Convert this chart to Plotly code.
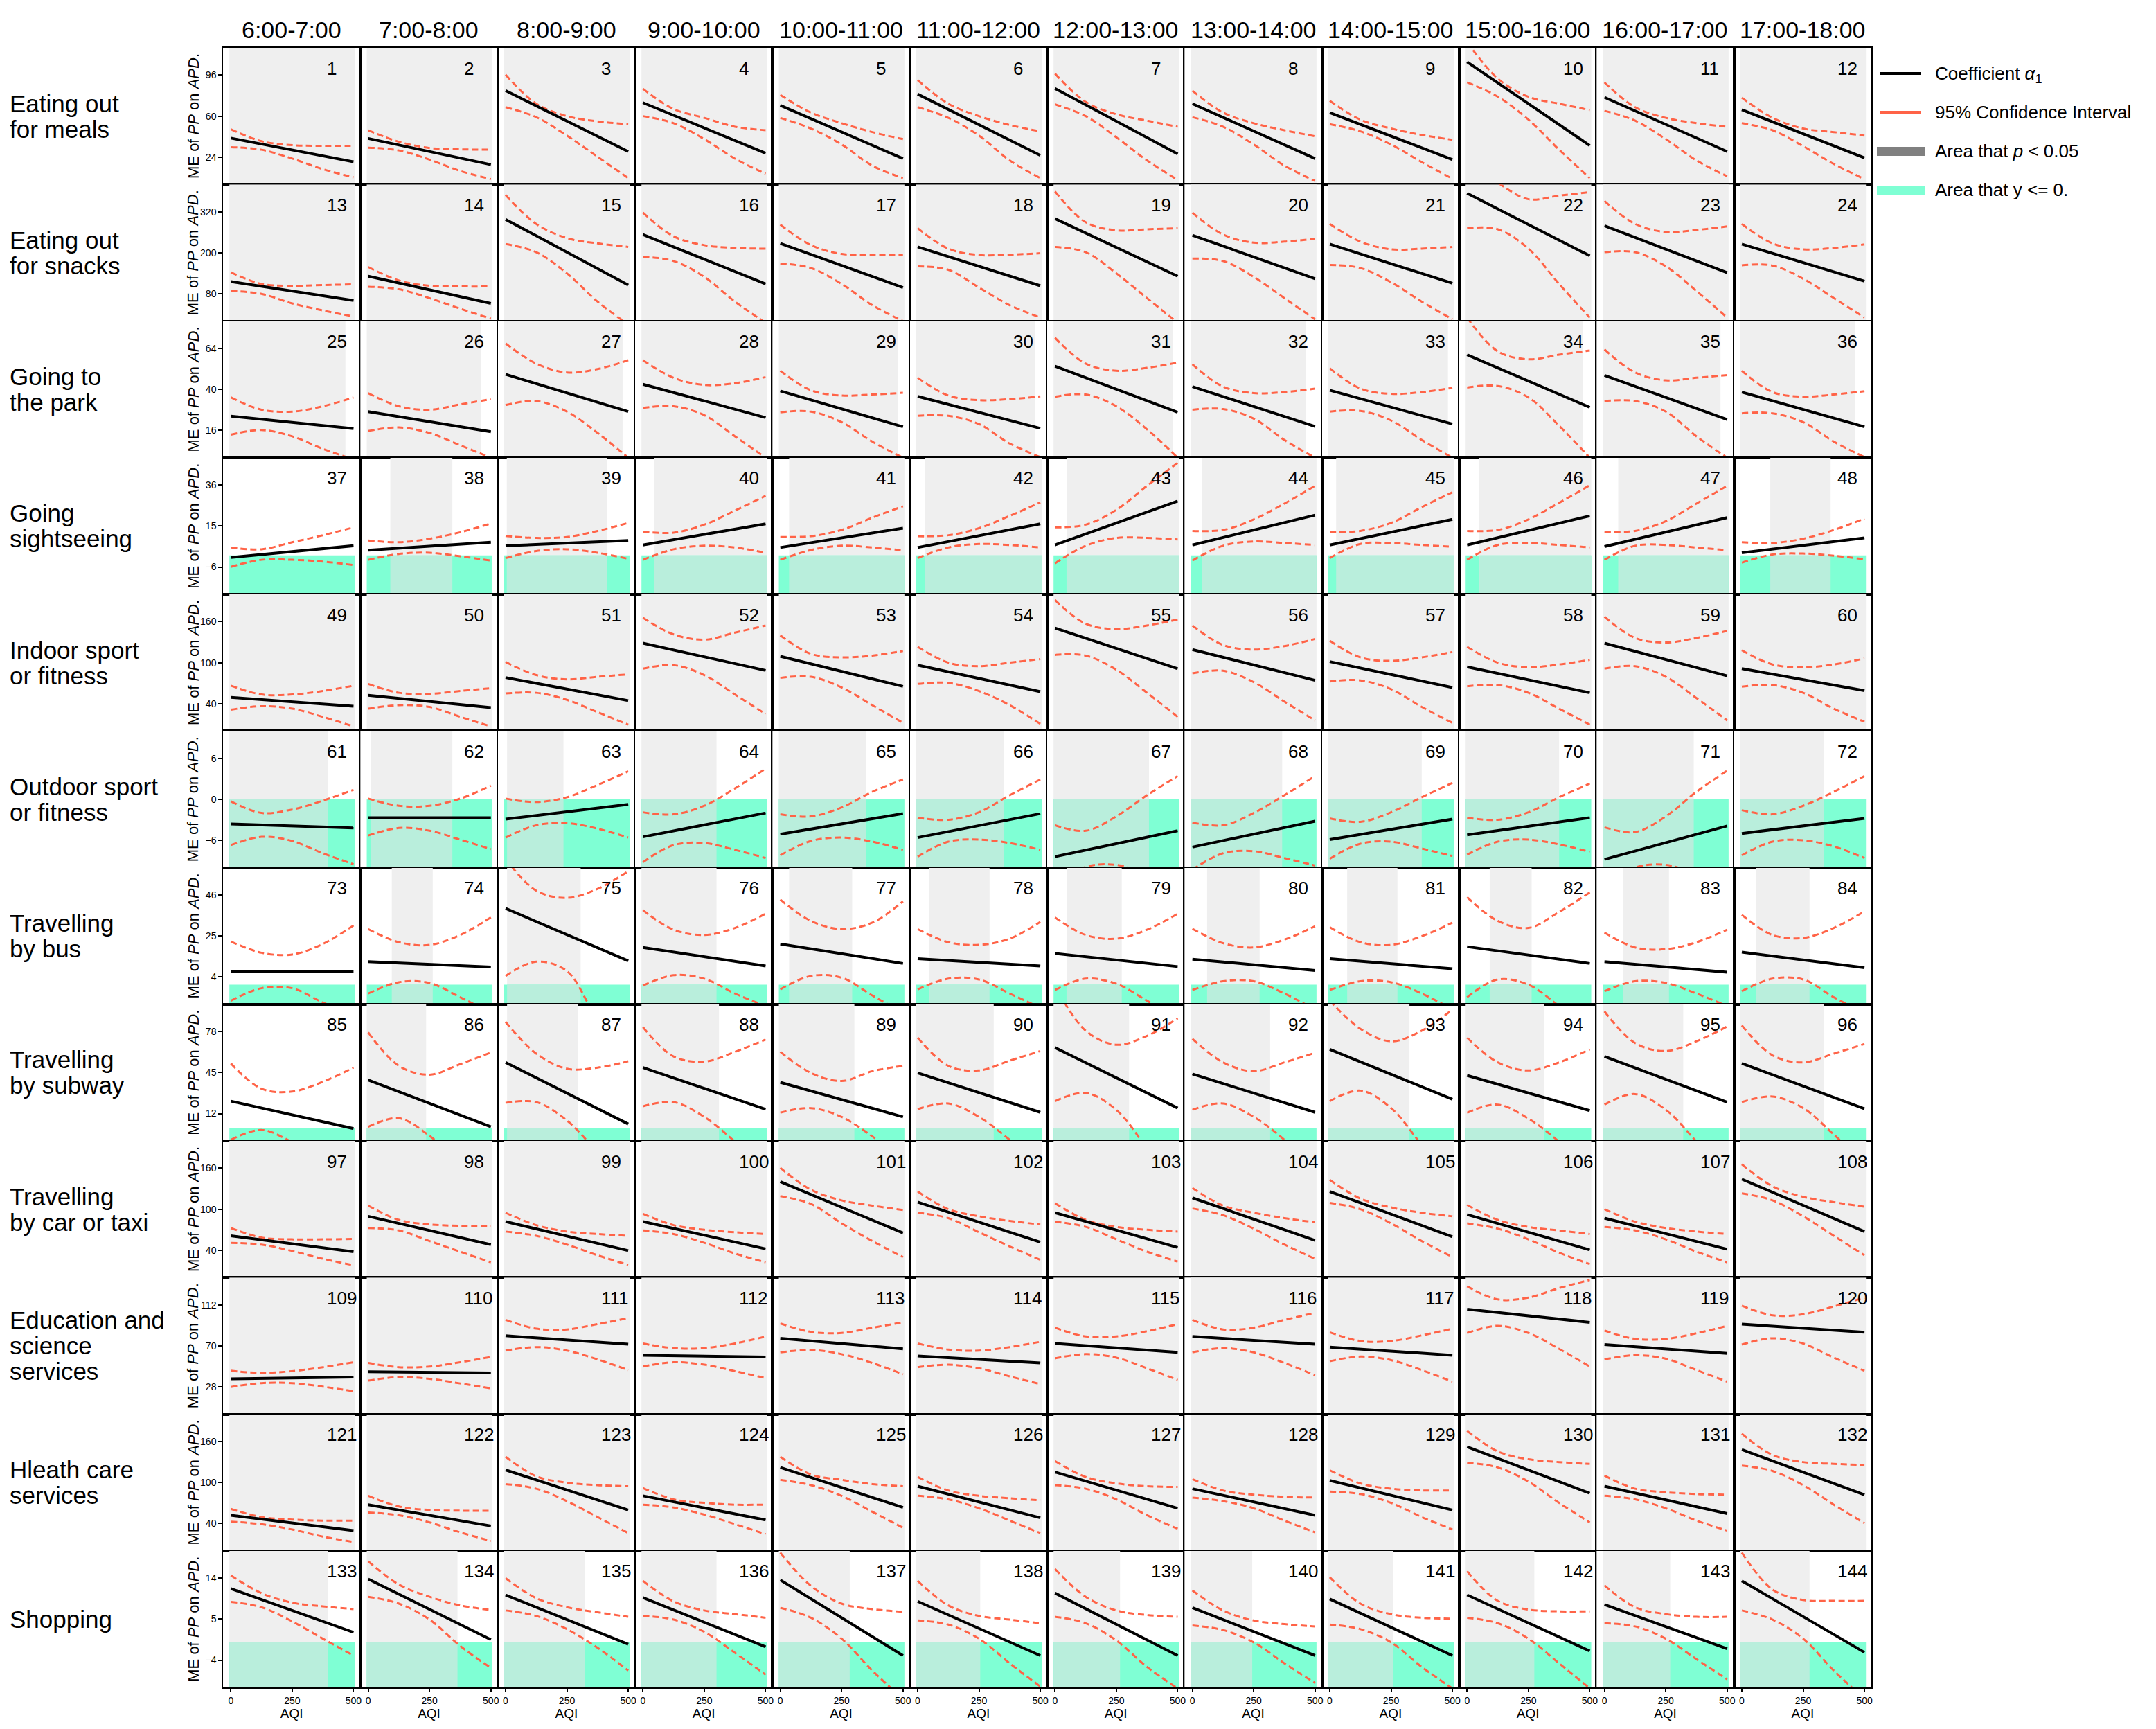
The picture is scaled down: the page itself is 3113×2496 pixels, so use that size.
import plotly.graph_objects as go
from plotly.subplots import make_subplots

hours = ["6:00-7:00", "7:00-8:00", "8:00-9:00", "9:00-10:00", "10:00-11:00", "11:00-12:00",
         "12:00-13:00", "13:00-14:00", "14:00-15:00", "15:00-16:00", "16:00-17:00", "17:00-18:00"]

activities = [["Eating out", "for meals"], ["Eating out", "for snacks"], ["Going to", "the park"],
              ["Going", "sightseeing"], ["Indoor sport", "or fitness"], ["Outdoor sport", "or fitness"],
              ["Travelling", "by bus"], ["Travelling", "by subway"], ["Travelling", "by car or taxi"],
              ["Education and", "science", "services"], ["Hleath care", "services"], ["Shopping"]]

y_ranges = [[0, 120], [0, 400], [0, 80], [-20, 50], [0, 200], [-10, 10],
            [-10, 60], [-10, 100], [0, 200], [0, 140], [0, 200], [-10, 20]]
y_ticks = [[24, 60, 96], [80, 200, 320], [16, 40, 64], [-6, 15, 36], [40, 100, 160], [-6, 0, 6],
           [4, 25, 46], [12, 45, 78], [40, 100, 160], [28, 70, 112], [40, 100, 160], [-4, 5, 14]]

aqi = [0, 125, 250, 375, 500]

# coefficient alpha_1 at AQI = 0 and AQI = 500
coef_0 = [
    [40.7, 40.4, 82.4, 71.8, 69.4, 79.3, 84.3, 70.9, 63.1, 107.6, 76.5, 65.6],
    [115.8, 131.3, 297.8, 253.3, 227.5, 217.1, 299.9, 251.3, 225.4, 374.3, 279.2, 225.4],
    [24.3, 27.0, 48.8, 43.0, 39.1, 35.9, 53.6, 41.6, 39.5, 60.3, 48.2, 38.4],
    [-1.1, 2.6, 4.9, 5.3, 4.0, 4.0, 5.3, 5.3, 5.3, 5.3, 4.5, 1.3],
    [49.2, 52.3, 78.2, 128.5, 109.3, 96.3, 150.7, 119.1, 101.5, 93.8, 128.5, 91.2],
    [-3.6, -2.7, -2.9, -5.5, -5.1, -5.6, -8.4, -7.0, -5.9, -5.2, -8.8, -5.0],
    [6.9, 11.8, 39.1, 19.1, 20.9, 13.3, 16.0, 13.1, 13.3, 19.5, 11.8, 16.7],
    [22.0, 39.0, 53.2, 49.0, 37.1, 44.7, 65.1, 43.9, 63.7, 42.7, 58.0, 52.4],
    [61.1, 89.6, 81.8, 81.8, 140.4, 110.3, 94.8, 116.6, 125.9, 92.2, 87.0, 144.0],
    [36.2, 43.4, 80.3, 60.4, 77.8, 59.7, 72.4, 79.6, 68.7, 107.5, 71.3, 92.3],
    [52.0, 67.5, 118.4, 80.5, 122.1, 94.5, 115.3, 90.9, 102.9, 152.2, 94.5, 148.1],
    [11.7, 13.8, 10.3, 9.7, 13.6, 8.9, 10.7, 7.5, 9.4, 10.3, 8.2, 13.4],
]
coef_500 = [
    [19.9, 17.4, 28.9, 27.4, 22.7, 25.5, 26.7, 22.7, 21.8, 34.2, 28.9, 23.3],
    [60.0, 51.7, 105.5, 108.6, 98.2, 103.4, 131.3, 124.1, 110.6, 191.3, 141.7, 116.8],
    [17.0, 15.2, 27.0, 23.5, 18.1, 17.2, 26.6, 18.3, 19.7, 29.5, 22.4, 18.1],
    [4.9, 6.7, 7.6, 16.1, 13.9, 16.1, 27.8, 20.6, 18.4, 20.2, 19.3, 8.9],
    [36.3, 34.2, 44.5, 88.6, 65.3, 57.5, 91.2, 74.1, 63.7, 55.9, 80.8, 59.1],
    [-4.2, -2.7, -0.75, -2.0, -2.1, -2.1, -4.6, -3.2, -2.9, -2.7, -3.9, -2.8],
    [6.9, 9.1, 12.2, 9.6, 10.9, 9.6, 9.3, 7.3, 8.2, 10.9, 6.4, 8.7],
    [-0.1, 1.3, 3.6, 15.5, 9.3, 13.0, 16.4, 13.0, 23.5, 14.4, 21.2, 15.8],
    [37.8, 48.2, 39.4, 42.0, 65.3, 51.8, 44.0, 54.4, 59.6, 40.4, 41.4, 67.3],
    [38.0, 42.3, 71.6, 58.6, 66.9, 52.5, 63.3, 71.6, 60.4, 94.1, 62.2, 83.9],
    [29.6, 36.4, 59.7, 45.2, 63.4, 48.3, 62.3, 52.0, 59.7, 84.2, 54.5, 82.1],
    [2.1, 0.5, -0.5, -1.1, -3.0, -3.0, -3.0, -3.0, -3.0, -2.0, -1.5, -2.3],
]

# 95% CI upper / lower bounds at AQI = 0, 125, 250, 375, 500
ci_up = [
    [[48.5, 38.0, 34.5, 33.9, 33.9], [47.6, 37.5, 32.0, 30.8, 30.5], [96.4, 70.9, 60.0, 55.4, 52.9],
     [84.0, 66.2, 58.5, 50.7, 47.6], [78.7, 63.1, 53.8, 46.0, 39.8], [91.7, 70.9, 60.0, 52.2, 46.6],
     [97.3, 72.5, 61.6, 56.0, 50.7], [82.4, 63.1, 53.8, 47.6, 42.3], [73.4, 56.9, 49.1, 43.5, 39.2],
     [125, 93, 77, 70.9, 65.3], [89.6, 67.8, 58.5, 53.8, 50.7], [76.2, 58.5, 49.1, 46.0, 42.9]],
    [[142.7, 108.6, 103.4, 105.5, 107.5], [158.2, 118.9, 103.4, 101.3, 101.3], [369.1, 284.4, 243.0, 227.5, 217.1],
     [317.4, 248.2, 222.3, 214.0, 212.0], [282.3, 222.3, 196.5, 193.4, 193.4], [272.0, 212.0, 193.4, 194.4, 198.5],
     [379.5, 289.5, 265.7, 268.8, 271.9], [317.4, 253.3, 229.5, 232.6, 240.9], [284.4, 232.6, 209.9, 212.0, 217.1],
     [470, 405, 356.7, 367.1, 377.4], [351.6, 284.4, 260.6, 266.8, 277.1], [284.4, 227.5, 209.9, 214.0, 224.4]],
    [[35.3, 28.1, 27.0, 30.1, 35.3], [37.8, 30.1, 28.1, 31.2, 34.3], [66.9, 55.1, 49.9, 51.9, 57.1],
     [57.1, 46.8, 42.6, 43.6, 47.2], [50.9, 39.5, 36.4, 37.0, 38.0], [46.8, 36.4, 33.7, 34.3, 35.9],
     [70.2, 55.1, 50.9, 52.6, 55.7], [54.7, 41.6, 37.8, 38.4, 40.5], [52.4, 40.5, 37.4, 38.4, 40.9],
     [82, 62.3, 57.6, 60.3, 62.8], [63.4, 49.9, 45.3, 46.8, 48.4], [50.9, 38.4, 35.7, 37.0, 38.9]],
    [[4.0, 3.1, 6.7, 10.3, 14.3], [7.6, 6.7, 8.5, 11.8, 16.3], [9.9, 8.9, 9.4, 12.5, 16.6],
     [12.1, 11.6, 15.7, 22.9, 30.5], [9.4, 9.8, 13.0, 19.3, 25.1], [9.8, 10.3, 13.9, 20.2, 27.1],
     [14.3, 15.7, 23.3, 35.6, 47.3], [12.5, 13.0, 18.4, 26.5, 35.6], [11.8, 12.5, 16.6, 24.7, 32.3],
     [12.5, 13.0, 18.4, 26.9, 35.9], [12.1, 12.5, 17.5, 26.5, 35.6], [6.7, 6.3, 8.5, 13.0, 18.8]],
    [[66.3, 53.4, 53.4, 58.5, 66.3], [68.9, 55.9, 54.4, 58.5, 62.7], [101.0, 81.8, 75.6, 79.3, 82.9],
     [165.8, 141.4, 133.6, 144.0, 154.4], [139.9, 112.9, 107.7, 110.3, 117.1], [123.3, 100.0, 94.8, 100.0, 105.2],
     [191.7, 157.0, 149.2, 154.4, 163.2], [154.4, 125.9, 119.1, 124.3, 134.7], [132.1, 107.7, 102.6, 107.7, 115.5],
     [123.3, 100.0, 93.2, 97.4, 104.1], [167.3, 136.2, 129.5, 136.2, 146.6], [118.1, 97.4, 93.2, 97.4, 106.2]],
    [[-0.3, -2.0, -1.5, -0.2, 1.4], [0.1, -0.95, -0.95, 0.1, 2.0], [0.1, -0.4, 0.3, 2.1, 4.1],
     [-1.9, -2.2, -0.95, 1.6, 4.5], [-2.2, -2.5, -1.2, 1.1, 2.9], [-2.7, -3.0, -1.9, 0.6, 2.9],
     [-3.8, -4.6, -2.5, 0.6, 3.4], [-3.4, -3.8, -2.0, 0.6, 3.4], [-2.8, -3.3, -1.9, 0.3, 2.4],
     [-2.7, -3.0, -1.9, 0.3, 2.3], [-4.1, -4.8, -2.5, 1.1, 4.2], [-1.6, -2.2, -0.95, 1.1, 3.4]],
    [[22.2, 16.4, 15.5, 20.9, 30.4], [28.5, 21.8, 20.4, 25.5, 34.5], [64.5, 48.2, 44.5, 49.1, 58.2],
     [38.2, 28.2, 25.5, 29.1, 36.4], [43.6, 32.7, 28.5, 31.8, 42.7], [28.5, 21.8, 20.4, 23.6, 32.2],
     [34.5, 25.5, 23.6, 28.2, 36.4], [28.7, 21.3, 19.1, 23.1, 30.0], [29.5, 21.8, 20.4, 24.9, 31.8],
     [44.9, 32.7, 29.1, 37.3, 47.3], [26.7, 19.1, 18.2, 21.8, 28.2], [35.8, 25.5, 24.0, 29.1, 37.6]],
    [[52.4, 32.0, 29.7, 37.6, 49.0], [77.3, 50.4, 43.3, 51.8, 61.2], [85.8, 60.3, 48.1, 49.0, 54.1],
     [81.6, 58.0, 53.8, 61.7, 71.6], [61.7, 44.7, 38.2, 46.1, 50.4], [73.1, 50.4, 46.7, 54.6, 62.3],
     [115, 78.7, 67.4, 74.5, 88.7], [72.2, 53.2, 46.1, 53.2, 60.9], [103, 80.2, 70.2, 78.7, 95.7],
     [73.1, 53.2, 46.7, 53.2, 63.7], [94.3, 68.8, 62.3, 70.2, 82.1], [83.0, 58.9, 53.2, 60.3, 68.0]],
    [[72.5, 58.5, 55.9, 55.9, 56.5], [105.2, 84.4, 77.7, 75.6, 75.1], [94.8, 76.7, 67.3, 63.7, 61.1],
     [93.2, 76.7, 69.9, 66.3, 63.7], [160.6, 128.5, 112.9, 105.2, 98.9], [125.9, 100.0, 89.6, 82.9, 77.7],
     [108.8, 84.4, 74.1, 69.9, 67.3], [131.1, 105.2, 94.8, 87.0, 80.8], [143.0, 115.5, 102.6, 94.8, 89.6],
     [106.2, 84.4, 74.1, 68.9, 63.7], [100.0, 81.8, 72.5, 67.3, 63.7], [165.8, 133.6, 118.1, 110.3, 103.6]],
    [[44.5, 42.3, 44.1, 48.1, 53.2], [52.5, 48.1, 48.8, 53.2, 58.6], [96.6, 87.6, 86.8, 92.3, 98.4],
     [72.4, 67.7, 67.7, 72.4, 79.6], [93.0, 84.3, 83.2, 88.6, 94.1], [72.4, 66.2, 65.1, 68.7, 74.2],
     [88.6, 79.6, 79.6, 85.0, 92.3], [96.6, 86.8, 88.6, 96.6, 103.8], [83.9, 74.9, 74.9, 80.7, 87.6],
     [131.0, 117.6, 119.4, 129.2, 137.5], [85.7, 77.1, 77.1, 82.9, 90.5], [111.1, 101.3, 102.4, 110.4, 119.4]],
    [[61.3, 49.4, 45.7, 44.2, 44.2], [80.5, 64.9, 59.7, 58.7, 58.7], [137.7, 109.1, 99.7, 96.1, 94.5],
     [92.0, 75.3, 70.1, 67.5, 67.5], [137.7, 111.7, 103.9, 97.7, 94.5], [108.1, 88.3, 80.5, 76.9, 73.8],
     [131.4, 108.1, 98.7, 94.5, 93.5], [104.9, 88.3, 82.1, 79.0, 77.9], [117.9, 98.7, 90.9, 88.3, 88.3],
     [175.6, 145.5, 134.0, 129.9, 127.3], [110.1, 90.9, 85.7, 83.1, 82.1], [171.4, 140.3, 129.9, 127.3, 125.7]],
    [[14.6, 10.7, 8.6, 7.8, 7.2], [17.7, 12.6, 9.9, 8.0, 7.0], [14.0, 9.6, 7.6, 6.5, 5.5],
     [13.4, 8.9, 6.9, 6.1, 5.3], [19.6, 12.3, 8.4, 7.2, 6.6], [13.4, 8.0, 5.7, 4.9, 4.1],
     [16.0, 9.9, 6.9, 5.9, 5.5], [11.3, 6.9, 4.7, 3.9, 3.4], [14.2, 8.4, 6.1, 5.3, 5.1],
     [15.5, 9.0, 7.1, 6.7, 6.7], [12.4, 7.6, 6.1, 5.5, 5.5], [19.6, 11.5, 9.2, 9.0, 9.0]],
]
ci_low = [
    [[32.7, 30.5, 22.7, 13.4, 6.2], [32.3, 29.9, 21.8, 11.8, 4.7], [67.8, 59.1, 42.9, 24.3, 5.6],
     [60.0, 53.8, 39.8, 22.7, 9.3], [58.5, 49.1, 35.1, 16.5, 5.6], [67.8, 58.5, 42.9, 21.1, 5.6],
     [70.3, 60.0, 41.4, 21.1, 4.0], [59.1, 50.7, 35.1, 16.5, 3.1], [52.9, 46.6, 35.1, 19.6, 5.0],
     [89.6, 77.1, 56.9, 30.5, 5.6], [64.7, 56.0, 39.8, 21.1, 7.2], [53.8, 47.6, 33.6, 18.0, 4.7]],
    [[87.9, 79.6, 51.7, 31.0, 13.4], [100.3, 93.1, 67.2, 36.2, 7.2], [225.4, 201.6, 139.6, 56.9, -10],
     [188.2, 175.8, 129.3, 56.9, -5], [168.5, 155.1, 108.6, 46.5, 0], [160.3, 150.0, 98.2, 46.5, 10.3],
     [217.1, 201.6, 139.6, 67.2, -5], [183.0, 175.8, 129.3, 67.2, 5.2], [164.4, 155.1, 113.7, 56.9, 5.2],
     [271.9, 268.8, 212.0, 108.6, 10.3], [201.6, 201.6, 160.3, 87.9, 10.3], [163.4, 162.4, 124.1, 67.2, 10.3]],
    [[13.5, 16.2, 12.5, 5.2, -1], [15.6, 17.7, 14.5, 7.3, 0], [30.8, 33.2, 27.0, 14.5, 0],
     [29.1, 30.1, 24.9, 12.5, 0], [26.6, 27.0, 20.8, 9.4, 0], [24.5, 24.5, 19.7, 8.3, 0.4],
     [35.7, 37.0, 30.1, 16.6, 0], [28.1, 28.5, 22.9, 10.4, 0], [27.0, 27.4, 21.8, 10.4, 0],
     [41.1, 42.0, 35.3, 18.7, 0], [33.2, 33.2, 27.0, 12.5, 0], [26.0, 26.0, 20.8, 9.4, 0.4]],
    [[-5.9, -2.3, -2.3, -3.2, -5.0], [-2.3, 0.7, 1.3, -0.5, -2.7], [-1.4, 2.2, 3.1, 1.3, -1.8],
     [-2.3, 3.1, 4.9, 4.0, 1.3], [-2.3, 2.7, 4.9, 4.0, 2.6], [-1.4, 4.0, 5.8, 5.3, 4.0],
     [-4.1, 4.9, 8.9, 8.9, 8.1], [-2.7, 4.9, 7.1, 6.3, 5.3], [-1.4, 5.8, 6.3, 5.3, 4.4],
     [-2.3, 5.3, 6.3, 5.3, 4.0], [-2.3, 4.9, 5.3, 4.0, 2.6], [-3.8, 0.4, 0.9, -0.2, -2.0]],
    [[31.1, 36.3, 32.6, 20.7, 6.7], [32.6, 37.8, 35.2, 20.7, 6.7], [54.9, 55.9, 45.6, 27.5, 9.3],
     [91.2, 96.3, 81.8, 53.4, 24.9], [77.7, 79.3, 63.7, 37.8, 11.9], [68.9, 70.4, 58.5, 37.8, 10.4],
     [111.4, 110.3, 89.6, 55.9, 20.7], [84.4, 88.1, 71.5, 43.0, 15.5], [72.5, 74.1, 61.1, 35.2, 11.9],
     [65.3, 67.3, 55.9, 32.6, 9.3], [91.2, 94.8, 79.3, 48.2, 15.5], [64.8, 67.3, 55.9, 32.6, 13.5]],
    [[-6.7, -5.5, -6.1, -7.9, -9.5], [-5.3, -4.2, -4.6, -5.9, -7.3], [-5.6, -3.8, -3.5, -4.3, -5.6],
     [-9.2, -6.7, -6.4, -7.4, -8.6], [-8.2, -6.1, -5.6, -6.2, -7.4], [-8.4, -6.2, -5.9, -6.4, -7.4],
     [-12.5, -9.9, -9.6, -11.0, -13.0], [-10.3, -7.9, -7.6, -8.6, -9.7], [-8.7, -6.5, -6.2, -7.2, -8.3],
     [-8.1, -6.2, -5.9, -6.6, -7.7], [-13.0, -10.0, -9.6, -11.0, -13.0], [-8.2, -6.2, -6.0, -6.9, -8.6]],
    [[-8.2, -1.8, -1.8, -9.1, -15.5], [-4.5, 1.3, 0.9, -6.4, -14.5], [4.5, 11.8, 7.0, -17, -30],
     [-0.5, 4.9, 3.1, -4.5, -10.9], [-2.4, 4.5, 3.6, -5.5, -14.5], [-2.4, 3.1, 2.7, -4.5, -11.8],
     [-2.7, 3.1, 0.5, -8.2, -17.3], [-2.7, 1.8, 1.8, -4.5, -12.7], [-2.7, 1.8, 1.3, -4.5, -12.7],
     [-6.4, 2.7, 0.0, -10.9, -22.7], [-3.3, 1.8, 0.9, -4.5, -10.9], [-3.3, 3.1, 2.7, -6.4, -14.5]],
    [[-9.1, -1.2, -11, -25, -40], [1.3, 8.2, -6, -28, -50], [20.6, 21.2, 6.4, -19.1, -44.6],
     [17.8, 21.2, 9.3, -10.6, -33.2], [12.7, 16.4, 9.3, -6.3, -24.7], [15.5, 20.1, 9.3, -9.1, -30.4],
     [22.0, 28.6, 14.9, -16.2, -50.3], [15.0, 20.1, 9.3, -9.1, -33.2], [22.0, 30.5, 16.4, -13.4, -44.6],
     [12.7, 19.2, 7.9, -10.6, -33.2], [19.2, 27.7, 15.0, -10.6, -38.9], [21.2, 25.7, 16.4, -4.9, -27.6]],
    [[50.8, 48.2, 38.9, 27.5, 18.1], [72.5, 68.9, 53.4, 37.8, 22.3], [67.3, 61.1, 48.2, 32.6, 18.6],
     [68.9, 63.7, 50.8, 35.2, 22.3], [119.1, 107.7, 79.3, 53.4, 30.0], [94.8, 87.0, 66.3, 45.6, 25.9],
     [81.8, 74.1, 55.9, 37.8, 23.3], [101.0, 91.2, 71.5, 48.2, 27.5], [109.3, 100.0, 79.3, 53.4, 30.0],
     [79.3, 71.5, 55.9, 36.3, 19.7], [74.1, 68.9, 55.9, 37.8, 22.3], [123.3, 112.9, 89.6, 61.1, 32.6]],
    [[27.9, 31.8, 31.8, 28.2, 23.5], [34.4, 38.0, 36.2, 31.5, 26.4], [65.1, 68.7, 65.1, 56.1, 45.2],
     [48.8, 53.2, 50.7, 44.1, 36.9], [63.3, 65.8, 61.5, 52.5, 40.9], [48.1, 50.7, 47.0, 38.7, 30.8],
     [57.2, 61.5, 57.9, 47.0, 35.1], [63.3, 67.7, 63.3, 52.5, 39.8], [54.3, 59.0, 55.4, 45.2, 33.3],
     [83.2, 90.5, 83.2, 66.9, 48.8], [56.1, 60.4, 56.8, 45.2, 33.3], [71.3, 77.8, 72.4, 57.9, 44.5]],
    [[42.6, 39.0, 31.2, 20.8, 13.0], [56.1, 52.0, 41.6, 27.0, 14.5], [97.7, 90.9, 72.7, 49.4, 26.0],
     [67.5, 63.4, 53.0, 39.0, 24.4], [103.9, 96.1, 80.5, 57.1, 33.8], [80.5, 75.3, 62.3, 44.2, 26.0],
     [96.1, 90.9, 75.3, 52.0, 32.2], [77.9, 72.7, 62.3, 44.2, 27.0], [86.8, 83.1, 70.1, 49.4, 31.2],
     [128.8, 122.1, 101.3, 70.1, 41.6], [80.5, 75.3, 62.3, 44.2, 29.6], [124.7, 116.9, 96.1, 67.5, 40.5]],
    [[8.8, 7.6, 4.5, 0.7, -3.0], [9.9, 8.4, 4.9, -0.9, -5.7], [6.9, 5.7, 2.8, -1.3, -6.3],
     [5.7, 4.9, 2.2, -2.4, -7.2], [7.5, 5.3, 0.7, -6.3, -12.5], [4.7, 3.8, 0.7, -4.7, -9.8],
     [5.5, 4.1, 0.3, -5.5, -10.2], [3.6, 2.6, -0.1, -4.7, -9.0], [3.8, 2.8, -0.1, -5.5, -10.2],
     [5.3, 4.1, 0.7, -4.7, -10.2], [4.1, 3.4, 0.7, -3.8, -8.2], [6.9, 4.9, 0.7, -6.3, -12.5]],
]

# AQI interval where p < 0.05 (None = not significant anywhere)
FULL = (-6, 506)
sig_range = [
    [FULL] * 12,
    [FULL] * 12,
    [(-6, 467), (-6, 460), (-6, 477), FULL, (-6, 480), (-6, 480),
     (-6, 480), (-6, 462), (-6, 482), (-6, 473), (-6, 473), (-6, 462)],
    [None, (90, 343), (5, 413), (47, 506), (36, 506), (30, 506),
     (47, 506), (38, 506), (26, 506), (49, 506), (56, 506), (116, 362)],
    [FULL] * 12,
    [(-6, 396), (10, 343), (6, 236), (-6, 300), (-6, 351), (-6, 351),
     (-6, 383), (-6, 366), (-6, 375), (-6, 375), (-6, 364), (-6, 334)],
    [None, (96, 263), (6, 306), (-6, 300), (36, 293), (47, 293),
     (47, 272), (60, 274), (71, 276), (92, 263), (77, 263), (58, 276)],
    [None, (-6, 236), (6, 296), (-6, 310), (-6, 302), (-6, 310),
     (-6, 302), (-6, 317), (-6, 325), (-6, 313), (-6, 321), (-6, 334)],
    [FULL] * 12,
    [FULL] * 12,
    [FULL] * 12,
    [(-6, 396), (-6, 364), (-6, 323), (-6, 300), (-6, 283), (-6, 255),
     (-6, 265), (-6, 244), (-6, 257), (-6, 274), (-6, 268), (-6, 276)],
]

GREY = "#efefef"
AQUA = "#7fffd4"
MIX = "#b9eedc"
RED = "#ff6347"
FONT = "Arial, Liberation Sans, sans-serif"

W, H = 3113, 2496
ML, MR, MT, MB = 314, 419, 61, 68
PW, PH = W - ML - MR, H - MT - MB
ROW_H = PH / 12


def px(xp, yp):
    return (xp - ML) / PW, (H - MB - yp) / PH


fig = make_subplots(rows=12, cols=12, horizontal_spacing=0, vertical_spacing=0)

shapes = []
annotations = []
for r in range(12):
    lo, hi = y_ranges[r]
    for c in range(12):
        k = r * 12 + c + 1
        xr = "x" if k == 1 else f"x{k}"
        yr = "y" if k == 1 else f"y{k}"
        sig = sig_range[r][c]
        if sig is not None:
            shapes.append(dict(type="rect", xref=xr, yref=yr, x0=sig[0], x1=sig[1], y0=lo, y1=hi,
                               fillcolor=GREY, line_width=0, layer="below"))
        if lo < 0:
            shapes.append(dict(type="rect", xref=xr, yref=yr, x0=FULL[0], x1=FULL[1], y0=lo, y1=0,
                               fillcolor=AQUA, line_width=0, layer="below"))
            if sig is not None:
                shapes.append(dict(type="rect", xref=xr, yref=yr, x0=sig[0], x1=sig[1], y0=lo, y1=0,
                                   fillcolor=MIX, line_width=0, layer="below"))
        for ci in (ci_up[r][c], ci_low[r][c]):
            fig.add_trace(go.Scatter(x=aqi, y=ci, mode="lines", line_shape="spline",
                                     line=dict(color=RED, width=3, dash="9px,5px"),
                                     showlegend=False, hoverinfo="skip"), row=r + 1, col=c + 1)
        fig.add_trace(go.Scatter(x=[aqi[0], aqi[-1]], y=[coef_0[r][c], coef_500[r][c]], mode="lines",
                                 line=dict(color="black", width=4), showlegend=False),
                      row=r + 1, col=c + 1)
        annotations.append(dict(text=str(k), xref=f"{xr} domain", yref=f"{yr} domain",
                                x=0.745, y=0.85, xanchor="left", yanchor="middle", showarrow=False,
                                font=dict(size=26, color="black")))
        if r == 0:
            annotations.append(dict(text=hours[c], xref=f"{xr} domain", yref="paper",
                                    x=0.5, y=1 + 26 / PH, xanchor="center", yanchor="middle",
                                    showarrow=False, font=dict(size=34, color="black")))
        if c == 0:
            annotations.append(dict(text="ME of <i>PP</i> on <i>APD</i>.", xref=f"{xr} domain",
                                    yref=f"{yr} domain", x=-0.215, y=0.5, textangle=-90,
                                    xanchor="center", yanchor="middle", showarrow=False,
                                    font=dict(size=22, color="black")))
            lines = activities[r]
            n = len(lines)
            for i, line in enumerate(lines):
                off = (i - (n - 1) / 2) * 37  # px below the row centre
                annotations.append(dict(text=line, xref="paper", yref=f"{yr} domain",
                                        x=(4 - ML) / PW, y=0.5 - off / ROW_H,
                                        xanchor="left", yanchor="middle", showarrow=False,
                                        font=dict(size=35, color="black")))

fig.update_xaxes(range=[-32, 528], showline=True, mirror=True, linecolor="black", linewidth=1.5,
                 showgrid=False, zeroline=False, tickvals=[0, 250, 500], showticklabels=False,
                 ticks="", fixedrange=True)
fig.update_yaxes(showline=True, mirror=True, linecolor="black", linewidth=1.5,
                 showgrid=False, zeroline=False, showticklabels=False, ticks="")
fig.update_xaxes(row=12, ticks="outside", ticklen=5, tickwidth=1.5, tickcolor="black",
                 showticklabels=True, tickfont=dict(size=14, color="black"),
                 title=dict(text="AQI", font=dict(size=19, color="black"), standoff=3))
for r in range(12):
    fig.update_yaxes(range=y_ranges[r], tickvals=y_ticks[r], row=r + 1)
    fig.update_yaxes(row=r + 1, col=1, ticks="outside", ticklen=5, tickwidth=1.5, tickcolor="black",
                     showticklabels=True, tickfont=dict(size=14, color="black"))

# legend drawn by hand on the right
lx0, lx1 = px(2706, 0)[0], px(2766, 0)[0]
px0, px1 = px(2702, 0)[0], px(2772, 0)[0]
tx = px(2784, 0)[0]
shapes.append(dict(type="line", xref="paper", yref="paper", x0=lx0, x1=lx1,
                   y0=px(0, 98)[1], y1=px(0, 98)[1], line=dict(color="black", width=4)))
shapes.append(dict(type="line", xref="paper", yref="paper", x0=lx0, x1=lx1,
                   y0=px(0, 154)[1], y1=px(0, 154)[1], line=dict(color=RED, width=4)))
shapes.append(dict(type="rect", xref="paper", yref="paper", x0=px0, x1=px1,
                   y0=px(0, 217)[1], y1=px(0, 204)[1], fillcolor="#808080", line_width=0))
shapes.append(dict(type="rect", xref="paper", yref="paper", x0=px0, x1=px1,
                   y0=px(0, 273)[1], y1=px(0, 260)[1], fillcolor=AQUA, line_width=0))
legend_text = ["Coefficient <i>α</i><sub>1</sub>", "95% Confidence Interval",
               "Area that <i>p</i> &lt; 0.05", "Area that y &lt;= 0."]
for txt, yp in zip(legend_text, [99, 154, 210, 266]):
    annotations.append(dict(text=txt, xref="paper", yref="paper", x=tx, y=px(0, yp)[1],
                            xanchor="left", yanchor="middle", showarrow=False,
                            font=dict(size=26, color="black")))

fig.update_layout(width=W, height=H, autosize=False,
                  margin=dict(l=ML, r=MR, t=MT, b=MB, pad=0),
                  paper_bgcolor="white", plot_bgcolor="white",
                  font=dict(family=FONT, color="black"),
                  showlegend=False, shapes=shapes, annotations=annotations)

fig.write_html("out.html")
